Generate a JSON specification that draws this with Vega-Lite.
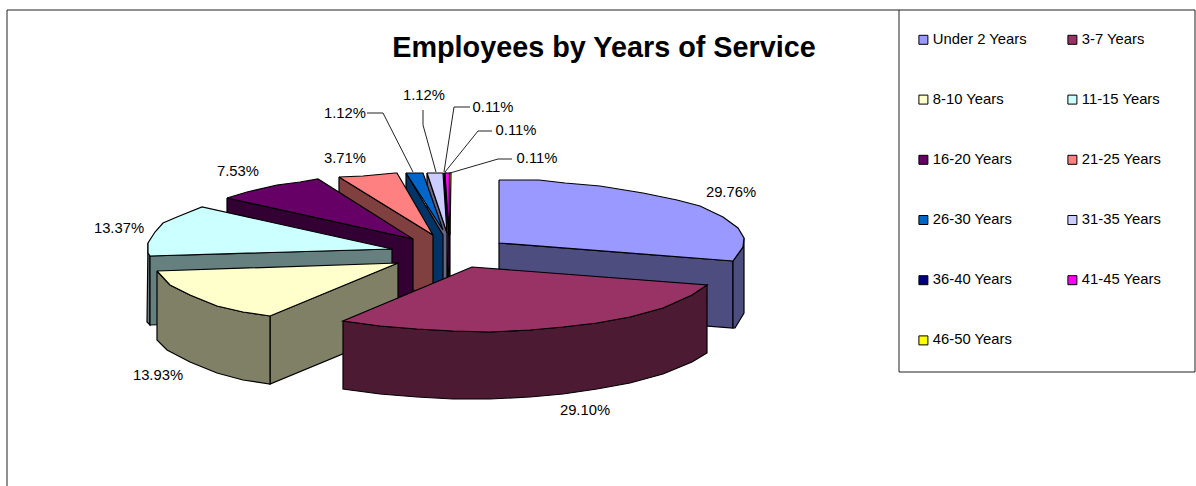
{
  "$schema": "https://vega.github.io/schema/vega-lite/v6.json",
  "width": 1196,
  "height": 486,
  "padding": 0,
  "autosize": "none",
  "background": "white",
  "view": {"stroke": null},
  "title": {"text": "Employees by Years of Service", "anchor": "middle", "frame": "group", "offset": 0, "dx": 6, "dy": 86, "baseline": "alphabetic", "font": "Liberation Sans", "fontSize": 28.8, "fontWeight": "bold", "color": "black"},
  "datasets": {
    "rims": [
      {"slice":"36-40 Years","panel":"a","step":1,"x":444,"y":173},{"slice":"36-40 Years","panel":"a","step":2,"x":449,"y":235},{"slice":"36-40 Years","panel":"a","step":3,"x":449,"y":290},{"slice":"36-40 Years","panel":"a","step":4,"x":444,"y":240},{"slice":"36-40 Years","panel":"a","step":5,"x":444,"y":173},
      {"slice":"41-45 Years","panel":"b","step":1,"x":446,"y":173},{"slice":"41-45 Years","panel":"b","step":2,"x":449,"y":235},{"slice":"41-45 Years","panel":"b","step":3,"x":449,"y":290},{"slice":"41-45 Years","panel":"b","step":4,"x":446,"y":240},{"slice":"41-45 Years","panel":"b","step":5,"x":446,"y":173},
      {"slice":"46-50 Years","panel":"c","step":1,"x":449,"y":173},{"slice":"46-50 Years","panel":"c","step":2,"x":450,"y":235},{"slice":"46-50 Years","panel":"c","step":3,"x":450,"y":290},{"slice":"46-50 Years","panel":"c","step":4,"x":449,"y":230},{"slice":"46-50 Years","panel":"c","step":5,"x":449,"y":173},
      {"slice":"31-35 Years","panel":"d","step":1,"x":427,"y":173},{"slice":"31-35 Years","panel":"d","step":2,"x":447,"y":233},{"slice":"31-35 Years","panel":"d","step":3,"x":447,"y":300},{"slice":"31-35 Years","panel":"d","step":4,"x":427,"y":240},{"slice":"31-35 Years","panel":"d","step":5,"x":427,"y":173},
      {"slice":"26-30 Years","panel":"e","step":1,"x":406,"y":173},{"slice":"26-30 Years","panel":"e","step":2,"x":443,"y":235},{"slice":"26-30 Years","panel":"e","step":3,"x":443,"y":302},{"slice":"26-30 Years","panel":"e","step":4,"x":406,"y":240},{"slice":"26-30 Years","panel":"e","step":5,"x":406,"y":173},
      {"slice":"21-25 Years","panel":"f","step":1,"x":339,"y":177},{"slice":"21-25 Years","panel":"f","step":2,"x":433,"y":235},{"slice":"21-25 Years","panel":"f","step":3,"x":433,"y":302},{"slice":"21-25 Years","panel":"f","step":4,"x":339,"y":244},{"slice":"21-25 Years","panel":"f","step":5,"x":339,"y":177},
      {"slice":"16-20 Years","panel":"g","step":1,"x":227,"y":198},{"slice":"16-20 Years","panel":"g","step":2,"x":413,"y":239},{"slice":"16-20 Years","panel":"g","step":3,"x":413,"y":306},{"slice":"16-20 Years","panel":"g","step":4,"x":227,"y":265},{"slice":"16-20 Years","panel":"g","step":5,"x":227,"y":198},
      {"slice":"11-15 Years","panel":"h","step":1,"x":148,"y":243},{"slice":"11-15 Years","panel":"h","step":2,"x":148,"y":253},{"slice":"11-15 Years","panel":"h","step":3,"x":150,"y":256},{"slice":"11-15 Years","panel":"h","step":4,"x":150,"y":325},{"slice":"11-15 Years","panel":"h","step":5,"x":147,"y":322},{"slice":"11-15 Years","panel":"h","step":6,"x":148,"y":243},
      {"slice":"11-15 Years","panel":"i","step":1,"x":150,"y":256},{"slice":"11-15 Years","panel":"i","step":2,"x":392,"y":249},{"slice":"11-15 Years","panel":"i","step":3,"x":392,"y":317},{"slice":"11-15 Years","panel":"i","step":4,"x":150,"y":325},{"slice":"11-15 Years","panel":"i","step":5,"x":150,"y":256},
      {"slice":"8-10 Years","panel":"j","step":1,"x":270,"y":316},{"slice":"8-10 Years","panel":"j","step":2,"x":398,"y":263},{"slice":"8-10 Years","panel":"j","step":3,"x":398,"y":331},{"slice":"8-10 Years","panel":"j","step":4,"x":270,"y":384},{"slice":"8-10 Years","panel":"j","step":5,"x":270,"y":316},
      {"slice":"8-10 Years","panel":"k","step":1,"x":157,"y":271},{"slice":"8-10 Years","panel":"k","step":2,"x":170,"y":285},{"slice":"8-10 Years","panel":"k","step":3,"x":190,"y":295},{"slice":"8-10 Years","panel":"k","step":4,"x":217,"y":306},{"slice":"8-10 Years","panel":"k","step":5,"x":243,"y":312},{"slice":"8-10 Years","panel":"k","step":6,"x":270,"y":316},{"slice":"8-10 Years","panel":"k","step":7,"x":270,"y":384},{"slice":"8-10 Years","panel":"k","step":8,"x":243,"y":380},{"slice":"8-10 Years","panel":"k","step":9,"x":217,"y":373},{"slice":"8-10 Years","panel":"k","step":10,"x":190,"y":362},{"slice":"8-10 Years","panel":"k","step":11,"x":167,"y":350},{"slice":"8-10 Years","panel":"k","step":12,"x":157,"y":340},{"slice":"8-10 Years","panel":"k","step":13,"x":157,"y":271},
      {"slice":"Under 2 Years","panel":"l","step":1,"x":499,"y":243},{"slice":"Under 2 Years","panel":"l","step":2,"x":733,"y":261},{"slice":"Under 2 Years","panel":"l","step":3,"x":733,"y":328},{"slice":"Under 2 Years","panel":"l","step":4,"x":499,"y":310},{"slice":"Under 2 Years","panel":"l","step":5,"x":499,"y":243},
      {"slice":"Under 2 Years","panel":"m","step":1,"x":733,"y":261},{"slice":"Under 2 Years","panel":"m","step":2,"x":743,"y":247},{"slice":"Under 2 Years","panel":"m","step":3,"x":744,"y":238},{"slice":"Under 2 Years","panel":"m","step":4,"x":744,"y":313},{"slice":"Under 2 Years","panel":"m","step":5,"x":735,"y":328},{"slice":"Under 2 Years","panel":"m","step":6,"x":733,"y":328},{"slice":"Under 2 Years","panel":"m","step":7,"x":733,"y":261},
      {"slice":"3-7 Years","panel":"n","step":1,"x":343,"y":321},{"slice":"3-7 Years","panel":"n","step":2,"x":380,"y":326},{"slice":"3-7 Years","panel":"n","step":3,"x":417,"y":329},{"slice":"3-7 Years","panel":"n","step":4,"x":453,"y":331},{"slice":"3-7 Years","panel":"n","step":5,"x":490,"y":332},{"slice":"3-7 Years","panel":"n","step":6,"x":530,"y":330},{"slice":"3-7 Years","panel":"n","step":7,"x":563,"y":327},{"slice":"3-7 Years","panel":"n","step":8,"x":597,"y":323},{"slice":"3-7 Years","panel":"n","step":9,"x":630,"y":317},{"slice":"3-7 Years","panel":"n","step":10,"x":663,"y":308},{"slice":"3-7 Years","panel":"n","step":11,"x":692,"y":295},{"slice":"3-7 Years","panel":"n","step":12,"x":707,"y":285},{"slice":"3-7 Years","panel":"n","step":13,"x":707,"y":353},{"slice":"3-7 Years","panel":"n","step":14,"x":692,"y":362},{"slice":"3-7 Years","panel":"n","step":15,"x":663,"y":374},{"slice":"3-7 Years","panel":"n","step":16,"x":630,"y":383},{"slice":"3-7 Years","panel":"n","step":17,"x":597,"y":389},{"slice":"3-7 Years","panel":"n","step":18,"x":563,"y":394},{"slice":"3-7 Years","panel":"n","step":19,"x":530,"y":397},{"slice":"3-7 Years","panel":"n","step":20,"x":490,"y":399},{"slice":"3-7 Years","panel":"n","step":21,"x":453,"y":399},{"slice":"3-7 Years","panel":"n","step":22,"x":417,"y":397},{"slice":"3-7 Years","panel":"n","step":23,"x":380,"y":394},{"slice":"3-7 Years","panel":"n","step":24,"x":343,"y":389},{"slice":"3-7 Years","panel":"n","step":25,"x":343,"y":321}
    ],
    "faces": [
      {"slice":"36-40 Years","step":1,"x":444,"y":173},{"slice":"36-40 Years","step":2,"x":446,"y":173},{"slice":"36-40 Years","step":3,"x":449,"y":235},{"slice":"36-40 Years","step":4,"x":444,"y":173},
      {"slice":"46-50 Years","step":1,"x":449,"y":173},{"slice":"46-50 Years","step":2,"x":451,"y":173},{"slice":"46-50 Years","step":3,"x":450,"y":235},{"slice":"46-50 Years","step":4,"x":449,"y":173},
      {"slice":"41-45 Years","step":1,"x":445,"y":173},{"slice":"41-45 Years","step":2,"x":449.5,"y":173},{"slice":"41-45 Years","step":3,"x":449,"y":235},{"slice":"41-45 Years","step":4,"x":445,"y":173},
      {"slice":"31-35 Years","step":1,"x":427,"y":173},{"slice":"31-35 Years","step":2,"x":443,"y":173},{"slice":"31-35 Years","step":3,"x":447,"y":233},{"slice":"31-35 Years","step":4,"x":427,"y":173},
      {"slice":"26-30 Years","step":1,"x":406,"y":173},{"slice":"26-30 Years","step":2,"x":423,"y":173},{"slice":"26-30 Years","step":3,"x":443,"y":230},{"slice":"26-30 Years","step":4,"x":406,"y":173},
      {"slice":"21-25 Years","step":1,"x":339,"y":177},{"slice":"21-25 Years","step":2,"x":363,"y":176},{"slice":"21-25 Years","step":3,"x":395,"y":173},{"slice":"21-25 Years","step":4,"x":397,"y":173},{"slice":"21-25 Years","step":5,"x":433,"y":235},{"slice":"21-25 Years","step":6,"x":339,"y":177},
      {"slice":"16-20 Years","step":1,"x":227,"y":198},{"slice":"16-20 Years","step":2,"x":247,"y":192},{"slice":"16-20 Years","step":3,"x":277,"y":185},{"slice":"16-20 Years","step":4,"x":300,"y":182},{"slice":"16-20 Years","step":5,"x":318,"y":179},{"slice":"16-20 Years","step":6,"x":413,"y":239},{"slice":"16-20 Years","step":7,"x":227,"y":198},
      {"slice":"11-15 Years","step":1,"x":392,"y":249},{"slice":"11-15 Years","step":2,"x":202,"y":207},{"slice":"11-15 Years","step":3,"x":177,"y":217},{"slice":"11-15 Years","step":4,"x":163,"y":223},{"slice":"11-15 Years","step":5,"x":155,"y":232},{"slice":"11-15 Years","step":6,"x":148,"y":243},{"slice":"11-15 Years","step":7,"x":148,"y":253},{"slice":"11-15 Years","step":8,"x":150,"y":256},{"slice":"11-15 Years","step":9,"x":392,"y":249},
      {"slice":"8-10 Years","step":1,"x":157,"y":271},{"slice":"8-10 Years","step":2,"x":170,"y":285},{"slice":"8-10 Years","step":3,"x":190,"y":295},{"slice":"8-10 Years","step":4,"x":217,"y":306},{"slice":"8-10 Years","step":5,"x":243,"y":312},{"slice":"8-10 Years","step":6,"x":270,"y":316},{"slice":"8-10 Years","step":7,"x":398,"y":263},{"slice":"8-10 Years","step":8,"x":157,"y":271},
      {"slice":"Under 2 Years","step":1,"x":499,"y":180},{"slice":"Under 2 Years","step":2,"x":539,"y":180},{"slice":"Under 2 Years","step":3,"x":565,"y":183},{"slice":"Under 2 Years","step":4,"x":600,"y":186},{"slice":"Under 2 Years","step":5,"x":643,"y":193},{"slice":"Under 2 Years","step":6,"x":677,"y":200},{"slice":"Under 2 Years","step":7,"x":700,"y":206},{"slice":"Under 2 Years","step":8,"x":723,"y":217},{"slice":"Under 2 Years","step":9,"x":738,"y":228},{"slice":"Under 2 Years","step":10,"x":744,"y":238},{"slice":"Under 2 Years","step":11,"x":743,"y":247},{"slice":"Under 2 Years","step":12,"x":733,"y":261},{"slice":"Under 2 Years","step":13,"x":499,"y":243},{"slice":"Under 2 Years","step":14,"x":499,"y":180},
      {"slice":"3-7 Years","step":1,"x":472,"y":267},{"slice":"3-7 Years","step":2,"x":707,"y":285},{"slice":"3-7 Years","step":3,"x":692,"y":295},{"slice":"3-7 Years","step":4,"x":663,"y":308},{"slice":"3-7 Years","step":5,"x":630,"y":317},{"slice":"3-7 Years","step":6,"x":597,"y":323},{"slice":"3-7 Years","step":7,"x":563,"y":327},{"slice":"3-7 Years","step":8,"x":530,"y":330},{"slice":"3-7 Years","step":9,"x":490,"y":332},{"slice":"3-7 Years","step":10,"x":453,"y":331},{"slice":"3-7 Years","step":11,"x":417,"y":329},{"slice":"3-7 Years","step":12,"x":380,"y":326},{"slice":"3-7 Years","step":13,"x":343,"y":321},{"slice":"3-7 Years","step":14,"x":472,"y":267}
    ],
    "leaders": [
      {"leader":"frame","step":1,"x":7,"y":486},{"leader":"frame","step":2,"x":7,"y":10},{"leader":"frame","step":3,"x":1195,"y":10},{"leader":"frame","step":4,"x":1195,"y":372},{"leader":"frame","step":5,"x":899,"y":372},{"leader":"frame","step":6,"x":899,"y":10},
      {"leader":"26-30","step":1,"x":367,"y":113},{"leader":"26-30","step":2,"x":383,"y":113},{"leader":"26-30","step":3,"x":413,"y":172},
      {"leader":"31-35","step":1,"x":423,"y":110},{"leader":"31-35","step":2,"x":423,"y":125},{"leader":"31-35","step":3,"x":436,"y":172},
      {"leader":"36-40","step":1,"x":470,"y":107},{"leader":"36-40","step":2,"x":454,"y":107},{"leader":"36-40","step":3,"x":444,"y":172},
      {"leader":"41-45","step":1,"x":492,"y":131},{"leader":"41-45","step":2,"x":478,"y":131},{"leader":"41-45","step":3,"x":445,"y":172},
      {"leader":"46-50","step":1,"x":512,"y":159},{"leader":"46-50","step":2,"x":498,"y":159},{"leader":"46-50","step":3,"x":450,"y":173}
    ],
    "shares": [
      {"slice":"Under 2 Years","share":0.2976,"x":731,"y":193},
      {"slice":"3-7 Years","share":0.291,"x":585,"y":411},
      {"slice":"8-10 Years","share":0.1393,"x":158,"y":376},
      {"slice":"11-15 Years","share":0.1337,"x":119,"y":229},
      {"slice":"16-20 Years","share":0.0753,"x":238,"y":172},
      {"slice":"21-25 Years","share":0.0371,"x":345,"y":159},
      {"slice":"26-30 Years","share":0.0112,"x":345,"y":114},
      {"slice":"31-35 Years","share":0.0112,"x":424,"y":96},
      {"slice":"36-40 Years","share":0.0011,"x":493,"y":108},
      {"slice":"41-45 Years","share":0.0011,"x":516,"y":131},
      {"slice":"46-50 Years","share":0.0011,"x":537,"y":159}
    ]
  },
  "encoding": {
    "x": {"field": "x", "type": "quantitative", "scale": {"domain": [0, 1196], "nice": false, "zero": false}, "axis": null},
    "y": {"field": "y", "type": "quantitative", "scale": {"domain": [486, 0], "nice": false, "zero": false}, "axis": null}
  },
  "layer": [
    {
      "data": {"name": "leaders"},
      "mark": {"type": "line", "stroke": "#222222", "strokeWidth": 1, "fill": null},
      "encoding": {"detail": {"field": "leader"}, "order": {"field": "step", "type": "quantitative"}}
    },
    {
      "data": {"name": "rims"},
      "mark": {"type": "line", "stroke": "black", "strokeWidth": 1.2},
      "encoding": {
        "detail": {"field": "panel"},
        "order": {"field": "step", "type": "quantitative"},
        "fill": {
          "field": "slice", "type": "nominal", "legend": null,
          "scale": {
            "domain": ["Under 2 Years", "3-7 Years", "8-10 Years", "11-15 Years", "16-20 Years", "21-25 Years", "26-30 Years", "31-35 Years", "36-40 Years", "41-45 Years", "46-50 Years"],
            "range": ["#4d4d80", "#4d1a33", "#808066", "#668080", "#330033", "#804040", "#003366", "#666680", "#000040", "#800080", "#808000"]
          }
        }
      }
    },
    {
      "data": {"name": "faces"},
      "mark": {"type": "line", "stroke": "black", "strokeWidth": 1.2},
      "encoding": {
        "order": {"field": "step", "type": "quantitative"},
        "fill": {
          "field": "slice", "type": "nominal",
          "scale": {
            "domain": ["Under 2 Years", "3-7 Years", "8-10 Years", "11-15 Years", "16-20 Years", "21-25 Years", "26-30 Years", "31-35 Years", "36-40 Years", "41-45 Years", "46-50 Years"],
            "range": ["#9999ff", "#993366", "#ffffcc", "#ccffff", "#660066", "#ff8080", "#0066cc", "#ccccff", "#000080", "#ff00ff", "#ffff00"]
          },
          "legend": {
            "title": null, "orient": "none", "direction": "horizontal", "legendX": 916, "legendY": 32, "columns": 2, "gridAlign": "all",
            "padding": 0, "rowPadding": 44.2, "columnPadding": 38, "symbolType": "square", "symbolSize": 81,
            "symbolStrokeColor": "black", "symbolStrokeWidth": 1, "symbolOpacity": 1, "labelOffset": 2,
            "labelFont": "Liberation Sans", "labelFontSize": 14.8, "labelColor": "black", "labelLimit": 200
          }
        }
      }
    },
    {
      "data": {"name": "shares"},
      "mark": {"type": "text", "font": "Liberation Sans", "fontSize": 14.8, "color": "black", "align": "center", "baseline": "middle"},
      "encoding": {"text": {"field": "share", "type": "quantitative", "format": ".2%"}}
    }
  ],
  "resolve": {"scale": {"fill": "independent"}}
}
